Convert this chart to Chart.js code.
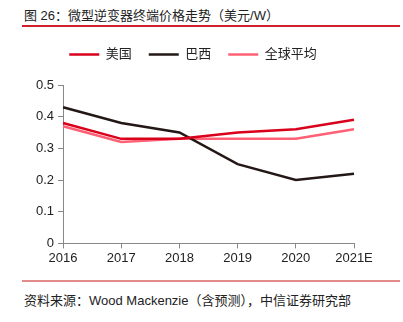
<!DOCTYPE html>
<html>
<head>
<meta charset="utf-8">
<script src="https://cdn.jsdelivr.net/npm/chart.js@4"></script>
<style>
  body { margin: 0; width: 403px; height: 322px; background: #fff; position: relative; overflow: hidden;
         font-family: "Liberation Sans", "Noto Sans CJK SC", sans-serif; color: #222; }
  #title { position: absolute; left: 22px; top: 7px; width: 376px; font-size: 13px; line-height: 18px;
           padding-left: 2px; border-bottom: 2px solid #d0202a; height: 18px; }
  #wrap { position: absolute; left: 0; top: 30px; width: 403px; height: 246px; }
  #source { position: absolute; left: 22px; top: 280px; width: 376px; font-size: 13px; line-height: 18px;
            padding-left: 2px; padding-top: 10px; border-top: 2px solid #e58a8a; }
</style>
</head>
<body>
<div id="title">图 26：微型逆变器终端价格走势（美元/W）</div>
<div id="wrap"><canvas id="chart"></canvas></div>
<div id="source">资料来源：Wood Mackenzie（含预测），中信证券研究部</div>
<script>
const years = ['2016', '2017', '2018', '2019', '2020', '2021E'];
const usPrice = [0.38, 0.33, 0.33, 0.35, 0.36, 0.39];
const brazilPrice = [0.43, 0.38, 0.35, 0.25, 0.20, 0.22];
const globalPrice = [0.37, 0.32, 0.33, 0.33, 0.33, 0.36];
const yTicks = [0, 0.1, 0.2, 0.3, 0.4, 0.5];

const font = { family: '"Liberation Sans", "Noto Sans CJK SC", sans-serif', size: 13 };
const axisGray = '#888';

const line = (label, data, color) => ({
    label, data,
    borderColor: color, backgroundColor: color,
    borderWidth: 2.5, pointRadius: 0, tension: 0
});

// extra space between the legend and the plot
const legendGap = {
    id: 'legendGap',
    beforeInit(chart) {
        const fit = chart.legend.fit;
        chart.legend.fit = function () {
            fit.call(this);
            this.height += 14;
        };
    }
};

new Chart(document.getElementById('chart'), {
    type: 'line',
    data: {
        labels: years,
        datasets: [
            line('美国', usPrice, '#d9001b'),
            line('巴西', brazilPrice, '#231815'),
            line('全球平均', globalPrice, '#ff6075')
        ]
    },
    options: {
        responsive: true,
        maintainAspectRatio: false,
        animation: false,
        layout: { padding: { left: 32, right: 49, top: 1, bottom: 8 } },
        plugins: {
            tooltip: { enabled: false },
            legend: {
                position: 'top',
                labels: {
                    usePointStyle: true, pointStyle: 'line', pointStyleWidth: 30,
                    boxHeight: 2, padding: 17, color: '#222', font
                }
            }
        },
        scales: {
            x: {
                offset: false,
                grid: { display: true, drawOnChartArea: false, drawTicks: true, tickLength: 5, color: axisGray },
                border: { display: true, color: axisGray },
                ticks: { color: '#222', font, padding: 2, maxRotation: 0 }
            },
            y: {
                min: 0, max: 0.5,
                afterBuildTicks: axis => { axis.ticks = yTicks.map(v => ({ value: v })); },
                grid: { display: true, drawOnChartArea: false, drawTicks: true, tickLength: 5, color: axisGray },
                border: { display: true, color: axisGray },
                ticks: { color: '#222', font, padding: 4, callback: v => String(v) }
            }
        }
    },
    plugins: [legendGap]
});
</script>
</body>
</html>
